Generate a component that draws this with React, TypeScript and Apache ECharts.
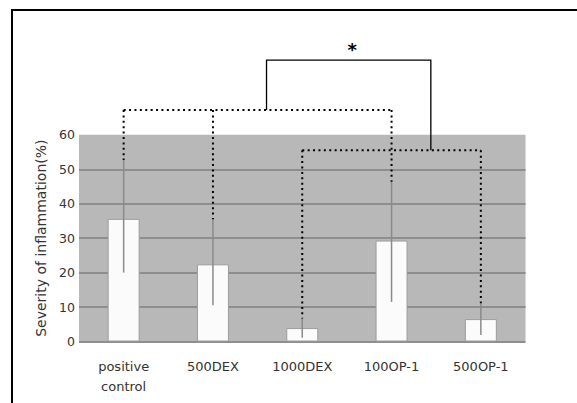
import React, { useEffect, useRef } from "react";
import * as echarts from "echarts";

const categories = ["positive\ncontrol", "500DEX", "1000DEX", "100OP-1", "500OP-1"];
const means = [35.6, 22.4, 3.9, 29.3, 6.5];
const errHigh = [52.7, 35.5, 6.7, 46.4, 11.1];
const errLow = [20, 10.5, 1.1, 11.5, 1.9];
const yTicks = [0, 10, 20, 30, 40, 50, 60];

// dotted bracket groups: member category indices, bracket level, and where each drop ends
const groupAMembers = [0, 1, 3];
const groupALevel = 67.2;
const groupAEnds = [52.7, 35.5, 46.4];
const groupBMembers = [2, 4];
const groupBLevel = 55.5;
const groupBEnds = [6.7, 11.1];
// solid significance bracket: x positions (category units), top level
const sigX = [1.6, 3.44];
const sigLevel = 81.7;
const sigStarX = 2.56;
const sigStarLevel = 85.6;

export default function App() {
  const ref = useRef<HTMLDivElement>(null);
  useEffect(() => {
    if (!ref.current) return;
    const chart = echarts.init(ref.current, null, { renderer: "svg" });
    const font = "DejaVu Sans";
    const xAt = (api: any, f: number, v: number) => {
      const p0 = api.coord([0, v]);
      const band = api.size([1, 0])[0];
      return [p0[0] + f * band, p0[1]];
    };
    const option: any = {
      animation: false,
      backgroundColor: "#ffffff",
      grid: {
        left: 79,
        right: 51.5,
        top: 134.8,
        bottom: 61.5,
        show: true,
        backgroundColor: "#b8b8b8",
        borderWidth: 0,
      },
      xAxis: {
        type: "category",
        data: categories,
        axisLine: { show: false },
        axisTick: { show: false },
        axisLabel: {
          color: "#333",
          fontFamily: font,
          fontSize: 13,
          margin: 15,
          lineHeight: 20,
          interval: 0,
        },
      },
      yAxis: {
        type: "value",
        min: 0,
        max: 60,
        interval: 10,
        name: "Severity of inflammation(%)",
        nameLocation: "middle",
        nameGap: 30,
        nameTextStyle: { color: "#333", fontFamily: font, fontSize: 14 },
        axisLine: { show: false },
        axisTick: { show: false },
        axisLabel: { color: "#333", fontFamily: font, fontSize: 12.5, margin: 4 },
        splitLine: {
          show: true,
          lineStyle: {
            color: yTicks.map((t) => (t === 60 ? "rgba(0,0,0,0)" : "#8e8e8e")),
            width: 2,
          },
        },
      },
      series: [
        {
          type: "bar",
          data: means,
          barWidth: 32,
          itemStyle: { color: "#fbfbfb", borderColor: "#9c9c9c", borderWidth: 1 },
          z: 2,
        },
        {
          type: "custom",
          z: 3,
          data: means.map((_, i) => [i, errLow[i], errHigh[i]]),
          renderItem: (params: any, api: any) => {
            const i = api.value(0);
            const lo = api.coord([i, api.value(1)]);
            const hi = api.coord([i, api.value(2)]);
            return {
              type: "line",
              shape: { x1: lo[0], y1: lo[1], x2: hi[0], y2: hi[1] },
              style: { stroke: "#8a8a8a", lineWidth: 1.5 },
            };
          },
        },
        {
          type: "custom",
          z: 5,
          clip: false,
          data: [[0]],
          renderItem: (params: any, api: any) => {
            const dotted = { stroke: "#000", lineWidth: 2, lineDash: [2, 3.4] };
            const children: any[] = [];
            const drawGroup = (members: number[], level: number, ends: number[]) => {
              const a = xAt(api, members[0], level);
              const b = xAt(api, members[members.length - 1], level);
              children.push({
                type: "line",
                shape: { x1: a[0], y1: a[1], x2: b[0], y2: b[1] },
                style: dotted,
              });
              members.forEach((m, k) => {
                const top = xAt(api, m, level);
                const bot = xAt(api, m, ends[k]);
                children.push({
                  type: "line",
                  shape: { x1: top[0], y1: top[1], x2: bot[0], y2: bot[1] },
                  style: dotted,
                });
              });
            };
            drawGroup(groupAMembers, groupALevel, groupAEnds);
            drawGroup(groupBMembers, groupBLevel, groupBEnds);
            const l0 = xAt(api, sigX[0], groupALevel);
            const l1 = xAt(api, sigX[0], sigLevel);
            const r1 = xAt(api, sigX[1], sigLevel);
            const r0 = xAt(api, sigX[1], groupBLevel);
            children.push({
              type: "polyline",
              shape: { points: [l0, l1, r1, r0] },
              style: { stroke: "#000", lineWidth: 1.3, fill: "none" },
            });
            const s = xAt(api, sigStarX, sigStarLevel);
            children.push({
              type: "text",
              x: s[0],
              y: s[1] + 3,
              style: {
                text: "*",
                fill: "#000",
                fontSize: 18,
                fontWeight: "bold",
                fontFamily: font,
                align: "center",
                verticalAlign: "middle",
              },
            });
            return { type: "group", children };
          },
        },
      ],
      graphic: [
        {
          type: "polyline",
          shape: { points: [[12, 403], [12, 10], [577, 10]] },
          style: { stroke: "#000", lineWidth: 2, fill: "none" },
        },
      ],
    };
    chart.setOption(option);
    return () => chart.dispose();
  }, []);
  return (
    <div
      ref={ref}
      style={{ position: "absolute", left: 0, top: 0, width: 577, height: 403 }}
    />
  );
}
